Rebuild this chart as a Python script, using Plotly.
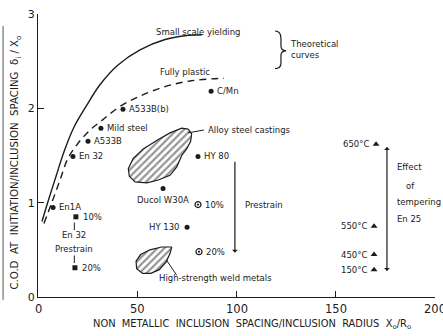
import plotly.graph_objects as go

# ---------------- data ----------------
circle_names = ["En1A", "En 32", "A533B", "Mild steel", "A533B(b)", "C/Mn", "HY 80", "Ducol W30A", "HY 130"]
circle_x = [7.6, 17.6, 25.2, 31.7, 42.8, 87.2, 80.6, 63.0, 75.1]
circle_y = [0.95, 1.49, 1.65, 1.79, 1.99, 2.18, 1.49, 1.15, 0.74]

hy80_prestrain_names = ["10%", "20%"]
hy80_prestrain_x = [80.6, 81.1]
hy80_prestrain_y = [0.98, 0.48]

en32_prestrain_names = ["10%", "20%"]
en32_prestrain_x = [19.1, 18.6]
en32_prestrain_y = [0.85, 0.31]

temper_names = ["650°C", "550°C", "450°C", "150°C"]
temper_x = [170.3, 169.3, 169.3, 169.3]
temper_y = [1.62, 0.75, 0.45, 0.29]

ssy_x = [2.0, 5.0, 9.1, 13.1, 18.1, 24.2, 31.2, 40.3, 51.4, 64.0, 74.1, 82.6]
ssy_y = [0.80, 1.01, 1.28, 1.54, 1.80, 2.02, 2.25, 2.46, 2.62, 2.73, 2.77, 2.78]

fp_x = [3.0, 7.1, 11.1, 15.1, 20.2, 26.2, 32.7, 41.3, 51.4, 64.0, 76.6, 93.7]
fp_y = [0.78, 1.01, 1.24, 1.47, 1.63, 1.77, 1.88, 2.02, 2.13, 2.23, 2.29, 2.32]

castings_x = [75.7, 77.4, 76.9, 74.9, 72.4, 69.9, 66.5, 60.6, 54.8, 48.9, 46.0, 45.5, 48.0, 53.0, 59.8, 66.5, 72.4, 75.7]
castings_y = [1.78, 1.73, 1.65, 1.57, 1.50, 1.38, 1.29, 1.24, 1.21, 1.22, 1.28, 1.36, 1.47, 1.57, 1.66, 1.74, 1.79, 1.78]

weld_x = [67.4, 66.5, 64.5, 61.1, 56.8, 52.7, 49.7, 49.4, 51.7, 56.4, 62.3, 67.4]
weld_y = [0.53, 0.46, 0.37, 0.29, 0.25, 0.25, 0.30, 0.38, 0.45, 0.50, 0.53, 0.53]

x_ticks = [0, 50, 100, 150, 200]
y_ticks = [0, 1, 2, 3]

# ---------------- style ----------------
INK = "#1c1c1c"
FONT = "DejaVu Sans"
LBL = dict(family=FONT, size=8.5, color=INK)

fig = go.Figure()

for bx, by in ((castings_x, castings_y), (weld_x, weld_y)):
    fig.add_trace(go.Scatter(x=bx, y=by, mode="lines", fill="toself",
                             fillcolor="white", line=dict(color=INK, width=1.2),
                             fillpattern=dict(shape="/", size=5, solidity=0.45, fgcolor="#2a2a2a", bgcolor="white"),
                             hoverinfo="skip", showlegend=False))

fig.add_trace(go.Scatter(x=ssy_x, y=ssy_y, mode="lines", line=dict(color=INK, width=1.4, shape="spline"),
                         showlegend=False))
fig.add_trace(go.Scatter(x=fp_x, y=fp_y, mode="lines", line=dict(color=INK, width=1.4, shape="spline", dash="7px,5px"),
                         showlegend=False))

fig.add_trace(go.Scatter(x=circle_x, y=circle_y, mode="markers",
                         marker=dict(symbol="circle", size=5, color=INK), showlegend=False))
fig.add_trace(go.Scatter(x=hy80_prestrain_x, y=hy80_prestrain_y, mode="markers",
                         marker=dict(symbol="circle-open-dot", size=6, color=INK, line=dict(width=1.2)),
                         showlegend=False))
fig.add_trace(go.Scatter(x=en32_prestrain_x, y=en32_prestrain_y, mode="markers",
                         marker=dict(symbol="square", size=5, color=INK), showlegend=False))
fig.add_trace(go.Scatter(x=temper_x, y=temper_y, mode="markers",
                         marker=dict(symbol="triangle-up", size=6, color=INK), showlegend=False))

ann = []
side = {"Ducol W30A": "below", "HY 130": "left"}
for n, x, y in zip(circle_names, circle_x, circle_y):
    s = side.get(n, "right")
    if s == "right":
        ann.append(dict(x=x, y=y, text=n, xanchor="left", yanchor="middle", xshift=4, showarrow=False))
    elif s == "left":
        ann.append(dict(x=x, y=y, text=n, xanchor="right", yanchor="middle", xshift=-5, showarrow=False))
    else:
        ann.append(dict(x=x, y=y, text=n, xanchor="center", yanchor="top", yshift=-4, showarrow=False))
for n, x, y in zip(hy80_prestrain_names, hy80_prestrain_x, hy80_prestrain_y):
    ann.append(dict(x=x, y=y, text=n, xanchor="left", yanchor="middle", xshift=5, showarrow=False))
for n, x, y in zip(en32_prestrain_names, en32_prestrain_x, en32_prestrain_y):
    ann.append(dict(x=x, y=y, text=n, xanchor="left", yanchor="middle", xshift=5, showarrow=False))
for n, x, y in zip(temper_names, temper_x, temper_y):
    ann.append(dict(x=x, y=y, text=n, xanchor="right", yanchor="middle", xshift=-5, showarrow=False))

ann += [
    dict(x=80.6, y=2.81, text="Small scale yielding", xanchor="center", showarrow=False),
    dict(x=125.9, y=2.62, text="Theoretical<br>curves", xanchor="left", align="left", showarrow=False),
    dict(x=74.1, y=2.39, text="Fully plastic", xanchor="center", showarrow=False),
    dict(x=84.5, y=1.77, text="Alloy steel castings", xanchor="left", showarrow=False),
    dict(x=60.0, y=0.20, text="High-strength weld metals", xanchor="left", showarrow=False),
    dict(x=103.3, y=0.98, text="Prestrain", xanchor="left", showarrow=False),
    dict(x=18.3, y=0.66, text="En 32", xanchor="center", showarrow=False),
    dict(x=18.3, y=0.51, text="Prestrain", xanchor="center", showarrow=False),
    dict(x=180, y=1.38, text="Effect", xanchor="left", showarrow=False),
    dict(x=187.5, y=1.18, text="of", xanchor="center", showarrow=False),
    dict(x=180, y=1.01, text="tempering", xanchor="left", showarrow=False),
    dict(x=180, y=0.83, text="En 25", xanchor="left", showarrow=False),
    dict(x=99.2, y=0.47, ax=99.2, ay=1.45, axref="x", ayref="y", text="", showarrow=True,
         arrowhead=1, arrowsize=0.8, arrowwidth=1.2, arrowcolor=INK),
    dict(x=175.8, y=1.59, ax=175.8, ay=0.26, axref="x", ayref="y", text="", showarrow=True,
         arrowhead=1, startarrowhead=1, arrowside="end+start", arrowsize=0.8, startarrowsize=0.8,
         arrowwidth=1.2, arrowcolor=INK),
]
for a in ann:
    a.setdefault("font", LBL)
    a.setdefault("xref", "x")
    a.setdefault("yref", "y")

# x tick labels drawn as text (so the last one can sit at the page edge like the original)
for v in x_ticks:
    ann.append(dict(x=v, xref="x", y=0, yref="paper", yanchor="top", yshift=-3, text=str(v),
                    showarrow=False, font=dict(family=FONT, size=11.5, color=INK)))

ann.append(dict(xref="paper", yref="paper", x=-0.0554, y=0.475, textangle=-90, showarrow=False,
                text="C.O.D  AT  INITIATION/INCLUSION  SPACING  δ<sub>i</sub> / X<sub>o</sub>",
                font=dict(family=FONT, size=10.2, color=INK), xanchor="center", yanchor="middle"))
ann.append(dict(xref="paper", yref="paper", x=0.539, y=-0.098, showarrow=False,
                text="NON  METALLIC  INCLUSION  SPACING/INCLUSION  RADIUS  X<sub>o</sub>/R<sub>o</sub>",
                font=dict(family=FONT, size=9.9, color=INK), xanchor="center", yanchor="middle"))

shapes = [
    dict(type="line", xref="x", yref="y", x0=75.6, y0=1.74, x1=83.6, y1=1.77, line=dict(color=INK, width=1)),
    dict(type="line", xref="x", yref="y", x0=64.8, y0=0.39, x1=69.9, y1=0.23, line=dict(color=INK, width=1)),
    dict(type="line", xref="x", yref="y", x0=18.3, y0=0.71, x1=18.3, y1=0.79, line=dict(color=INK, width=1)),
    dict(type="line", xref="x", yref="y", x0=18.3, y0=0.36, x1=18.3, y1=0.44, line=dict(color=INK, width=1)),
    dict(type="path", xref="x", yref="y",
         path="M 119.4,2.82 Q 122.4,2.82 122.4,2.74 L 122.4,2.66 Q 122.4,2.61 125,2.61 "
              "Q 122.4,2.61 122.4,2.56 L 122.4,2.48 Q 122.4,2.42 119.4,2.42",
         line=dict(color=INK, width=1.2)),
    dict(type="line", xref="paper", yref="paper", x0=-0.088, y0=0.958, x1=-0.088, y1=-0.01,
         line=dict(color="#555", width=1)),
]

fig.update_layout(
    width=443, height=336,
    margin=dict(l=38, r=8, t=10, b=39),
    paper_bgcolor="white", plot_bgcolor="white",
    annotations=ann, shapes=shapes,
    showlegend=False,
    font=dict(family=FONT, color=INK),
)
fig.update_xaxes(range=[0, 200], tickvals=x_ticks, showticklabels=False,
                 ticks="inside", ticklen=6, tickwidth=1, tickcolor=INK,
                 showline=True, linecolor=INK, linewidth=1.2, showgrid=False, zeroline=False)
fig.update_yaxes(range=[0, 3], tickvals=y_ticks, ticktext=[str(v) for v in y_ticks],
                 ticks="inside", ticklen=6, tickwidth=1, tickcolor=INK,
                 showline=True, linecolor=INK, linewidth=1.2, showgrid=False, zeroline=False,
                 tickfont=dict(family=FONT, size=11, color=INK))

fig.write_html("out.html", config={"displayModeBar": False},
               post_script="document.body.style.margin='0';document.body.style.overflow='hidden';")
